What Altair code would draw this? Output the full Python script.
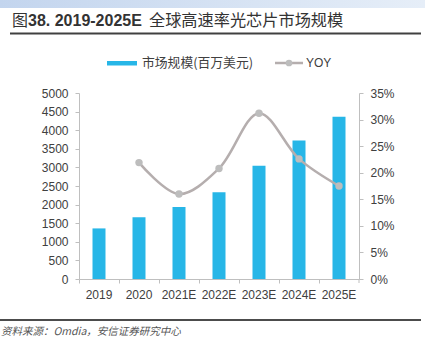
import altair as alt
import pandas as pd

years = ["2019", "2020", "2021E", "2022E", "2023E", "2024E", "2025E"]
market = [1360, 1660, 1935, 2330, 3045, 3720, 4360]
yoy = [None, 0.219, 0.160, 0.208, 0.312, 0.226, 0.175]

df = pd.DataFrame({"year": years, "market": market, "yoy": yoy})
one = pd.DataFrame({"a": [0]})

LABEL = "#404040"
AXIS = "#BFBFBF"
BLUE = "#27B6E7"
GRAY_LINE = "#B5AEAE"
FONT = "Liberation Sans"
CJK = "Noto Sans CJK SC"

xenc = alt.X("year:N", sort=years,
             scale=alt.Scale(paddingInner=0, paddingOuter=0),
             axis=alt.Axis(title=None, labelAngle=0, labelFont=FONT, labelFontSize=12,
                           labelColor=LABEL, domainColor=AXIS, tickColor=AXIS,
                           tickSize=4, bandPosition=0, labelPadding=6, grid=False))

bars = alt.Chart(df).mark_bar(size=13, color=BLUE).encode(
    x=xenc,
    y=alt.Y("market:Q", scale=alt.Scale(domain=[0, 5000]),
            axis=alt.Axis(title=None, orient="left", values=list(range(0, 5001, 500)),
                          format="d",
                          labelFont=FONT, labelFontSize=12, labelColor=LABEL,
                          domainColor=AXIS, tickColor=AXIS, tickSize=4, labelPadding=7,
                          grid=False)),
)

line = alt.Chart(df).transform_filter("datum.yoy != null").mark_line(
    color=GRAY_LINE, strokeWidth=2.5, interpolate="catmull-rom",
    point=alt.OverlayMarkDef(filled=True, color="#BDBDBD", size=55, opacity=1),
).encode(
    x=alt.X("year:N", sort=years),
    y=alt.Y("yoy:Q", scale=alt.Scale(domain=[0, 0.35]),
            axis=alt.Axis(title=None, orient="right", format=".0%",
                          values=[0, 0.05, 0.1, 0.15, 0.2, 0.25, 0.3, 0.35],
                          labelFont=FONT, labelFontSize=12, labelColor=LABEL,
                          domainColor=AXIS, tickColor=AXIS, tickSize=4, labelPadding=7,
                          grid=False)),
)

OX, OY = 79, 93  # plot origin in page coordinates


def tx(text, x, y, size, font=FONT, weight="normal", style="normal", color=LABEL, baseline="middle"):
    return alt.Chart(one).mark_text(
        text=text, align="left", baseline=baseline, font=font, fontSize=size,
        fontWeight=weight, fontStyle=style, color=color,
    ).encode(x=alt.value(x - OX), y=alt.value(y - OY))


band = alt.Chart(one).mark_rect(
    color=alt.Gradient(gradient="linear", x1=0, x2=1, y1=0, y2=0,
                       stops=[alt.GradientStop(color="#C3D5EE", offset=0),
                              alt.GradientStop(color="#E6EEF8", offset=1)])
).encode(x=alt.value(0 - OX), x2=alt.value(425 - OX), y=alt.value(0 - OY), y2=alt.value(8 - OY))

title1 = tx("图", 12, 21, 16, font=CJK, color="#333333")
title2 = tx("38. 2019-2025E", 28, 21, 16, weight="bold", color="#333333")
title3 = tx("全球高速率光芯片市场规模", 149, 21, 16.2, font=CJK, color="#333333")
underline = alt.Chart(one).mark_rule(color="#404040", strokeWidth=2).encode(
    x=alt.value(10 - OX), x2=alt.value(421 - OX), y=alt.value(33.5 - OY))

leg_rect = alt.Chart(one).mark_rect(color=BLUE).encode(
    x=alt.value(107 - OX), x2=alt.value(137 - OX), y=alt.value(61 - OY), y2=alt.value(65.5 - OY))
leg_text1 = tx("市场规模(百万美元)", 142, 63, 12.8, font=CJK)
leg_line = alt.Chart(one).mark_rule(color=GRAY_LINE, strokeWidth=2.5).encode(
    x=alt.value(275 - OX), x2=alt.value(303 - OX), y=alt.value(63 - OY))
leg_pt = alt.Chart(one).mark_point(filled=True, color="#BDBDBD", size=45, opacity=1).encode(
    x=alt.value(289 - OX), y=alt.value(63 - OY))
leg_text2 = tx("YOY", 306, 63, 12)

extra_tick = alt.Chart(one).mark_rule(color=AXIS).encode(
    x=alt.value(280), y=alt.value(186), y2=alt.value(190))

foot_rule = alt.Chart(one).mark_rule(color="#111111", strokeWidth=1.5).encode(
    x=alt.value(0 - OX), x2=alt.value(421 - OX), y=alt.value(320 - OY))
foot_text = tx("资料来源：Omdia，安信证券研究中心", 1, 332, 10.5, font=CJK, style="italic", color="#555555")

main = alt.layer(bars, line).resolve_scale(y="independent")

chart = alt.layer(
    main, band, title1, title2, title3, underline,
    leg_rect, leg_text1, leg_line, leg_pt, leg_text2, extra_tick, foot_rule, foot_text,
).properties(
    width=280, height=186,
    autosize=alt.AutoSizeParams(type="none"),
    padding={"left": OX, "top": OY, "right": 425 - OX - 280, "bottom": 340 - OY - 186},
    background="white",
).configure_view(stroke=None)

chart.save("out.html", embed_options={"renderer": "svg", "actions": False})
